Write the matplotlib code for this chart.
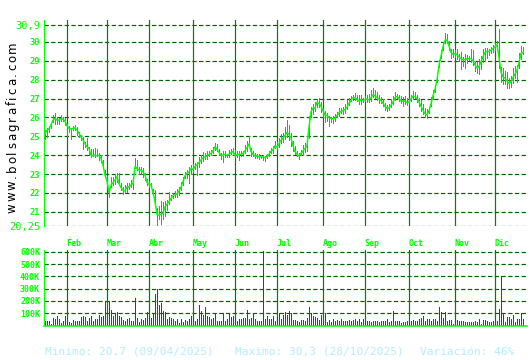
"""
Daily price chart (close + high/low) with volume panel, bolsagrafica style.
Saves out.png (530x360).
"""

import matplotlib
matplotlib.use("Agg")
import matplotlib.pyplot as plt
import matplotlib.transforms as mtransforms
from matplotlib.font_manager import FontProperties
import numpy as np

W, H = 530, 360

MONTHS = ["Feb", "Mar", "Abr", "May", "Jun", "Jul", "Ago", "Sep", "Oct", "Nov", "Dic"]
MONTH_START = [12, 32, 53, 75, 96, 117, 140, 161, 183, 206, 226]  # first session index of each month

# closing prices, one list per month (Jan is partial, Dic is partial)
close_jan = [25.15, 25.33, 25.42, 25.6, 25.86, 25.95, 25.86, 25.86, 25.95, 25.91, 25.8, 25.56]
close_feb = [25.42, 25.38, 25.42, 25.45, 25.33, 25.15, 24.98, 24.8, 24.62, 24.45,
             24.36, 24.0, 23.97, 24.0, 23.97, 24.0, 23.83, 23.48, 22.95, 22.63]
close_mar = [22.03, 22.42, 22.56, 22.68, 22.86, 22.5, 22.28, 22.15, 22.1, 22.33, 22.33,
             22.42, 22.5, 23.39, 23.3, 23.21, 23.21, 23.12, 22.95, 22.56, 22.45]
close_abr = [22.42, 22.03, 21.54, 20.87, 20.83, 20.87, 20.92, 21.27, 21.4, 21.54, 21.71,
             21.86, 21.9, 21.95, 22.1, 22.3, 22.6, 22.9, 23.05, 23.1, 23.3, 23.25]
close_may = [23.4, 23.5, 23.6, 23.75, 23.87, 23.92, 23.96, 24.05, 24.1, 24.23, 24.45,
             24.3, 24.15, 23.98, 24.0, 24.05, 23.98, 24.05, 24.14, 24.2, 23.98]
close_jun = [24.02, 24.05, 24.05, 24.1, 24.23, 24.4, 24.6, 24.2, 24.05, 23.96, 23.96,
             23.92, 23.93, 23.9, 23.87, 23.93, 24.05, 24.2, 24.3, 24.5, 24.41]
close_jul = [24.6, 24.8, 24.9, 25.04, 25.21, 25.1, 24.9, 24.5, 24.2, 24.05, 23.96, 24.1,
             24.23, 24.36, 24.5, 25.5, 26.3, 26.5, 26.5, 26.8, 26.74, 26.6, 26.35]
close_ago = [26.12, 26.1, 26.0, 25.95, 25.92, 25.97, 26.1, 26.25, 26.32, 26.36, 26.43,
             26.55, 26.75, 26.9, 27.05, 27.05, 26.95, 26.88, 26.9, 26.93, 26.95]
close_sep = [26.98, 26.93, 27.05, 27.2, 27.15, 27.05, 26.98, 26.9, 26.75, 26.58, 26.48,
             26.5, 26.65, 26.82, 27.05, 27.12, 27.0, 26.86, 26.86, 26.86, 26.78, 26.82]
close_oct = [27.0, 27.12, 27.12, 27.0, 26.82, 26.6, 26.38, 26.2, 26.14, 26.35, 26.72, 27.15,
             27.5, 28.0, 28.75, 29.25, 29.75, 30.1, 30.1, 29.8, 29.45, 29.35, 29.38]
close_nov = [29.33, 29.2, 29.1, 29.07, 29.07, 29.1, 29.13, 29.12, 29.0, 28.78, 28.62,
             28.7, 28.95, 29.22, 29.45, 29.5, 29.5, 29.57, 29.65, 29.75]
close_dic = [29.85, 29.2, 28.4, 28.15, 28.08, 27.93, 27.8, 27.9, 28.12, 28.3, 28.48,
             28.9, 29.4, 29.45]

# distance from close up to the session high / down to the session low
up_jan = [.18, .1, .15, .12, .25, .3, .15, .1, .18, .12, .15, .12]
up_feb = [.15, .05, .14, .14, .18, .09, .09, .18, .09, .45, .09, .35, .35, .4, .35, .1, .18, .27, .27, .25]
up_mar = [.12, .45, .3, .35, .18, .55, .23, .18, .3, .18, .18, .27, .18, .45, .45, .18, .18, .18, .09, .2, .2]
up_abr = [.12, .2, .6, .35, .5, .7, .6, .3, .25, .5, .2, .15, .2, .25, .2, .3, .25, .2, .15, .25, .2, .3]
up_may = [.2, .15, .3, .25, .3, .2, .25, .15, .2, .2, .2, .3, .2, .15, .2, .2, .1, .25, .2, .2, .3]
up_jun = [.2, .15, .2, .15, .3, .35, .4, .2, .2, .15, .1, .15, .1, .1, .1, .15, .2, .2, .2, .25, .3]
up_jul = [.3, .3, .3, .45, .65, .5, .3, .25, .3, .2, .15, .2, .3, .3, .3, .6, .25, .2, .3, .2, .3, .2, .15]
up_ago = [.2, .15, .1, .1, .15, .2, .2, .25, .2, .2, .3, .35, .3, .25, .15, .25, .25, .3, .3, .1, .2]
up_sep = [.2, .3, .4, .35, .3, .3, .2, .2, .25, .2, .2, .2, .3, .3, .3, .15, .2, .3, .2, .3, .25, .2]
up_oct = [.2, .3, .25, .2, .2, .3, .35, .3, .3, .2, .35, .3, .2, .25, .3, .3, .25, .35, .3, .25, .2, .3, .2]
up_nov = [.3, .15, .35, .15, .3, .2, .15, .5, .6, .2, .3, .4, .3, .4, .25, .2, .15, .15, .2, .2]
up_dic = [.2, 1.5, .3, .45, .4, .5, .3, .3, .5, .45, .3, .5, .4, .3]

dn_jan = [.27, .35, .18, .15, .1, .28, .18, .18, .14, .08, .2, .55]
dn_feb = [.18, .52, .09, .12, .27, .18, .18, .45, .18, .18, .35, .09, .0, .09, .0, .27, .18, .18, .09, .12]
dn_mar = [.23, .1, .14, .18, .27, .0, .12, .18, .07, .3, .1, .1, .27, .09, .09, .18, .18, .27, .27, .14, .12]
dn_abr = [.12, .15, .2, .55, .2, .5, .3, .5, .3, .15, .1, .1, .1, .15, .2, .15, .2, .1, .25, .55, .3, .15]
dn_may = [.15, .55, .2, .15, .2, .1, .15, .1, .1, .1, .15, .1, .15, .2, .35, .15, .1, .15, .1, .1, .1]
dn_jun = [.1, .3, .1, .15, .1, .15, .1, .25, .1, .1, .1, .1, .1, .15, .2, .1, .1, .1, .2, .1, .1]
dn_jul = [.15, .15, .2, .2, .25, .3, .4, .3, .15, .1, .15, .1, .2, .2, .3, .6, .3, .3, .15, .25, .2, .3, .3]
dn_ago = [.35, .3, .45, .2, .2, .15, .1, .15, .1, .2, .2, .1, .1, .05, .1, .15, .1, .15, .2, .1, .1]
dn_sep = [.15, .1, .2, .1, .1, .1, .2, .15, .15, .2, .15, .1, .1, .1, .1, .1, .15, .1, .25, .15, .1, .1]
dn_oct = [.15, .15, .1, .2, .2, .25, .2, .2, .15, .1, .1, .15, .15, .1, .1, .1, .15, .15, .15, .25, .3, .15, .15]
dn_nov = [.25, .2, .55, .35, .45, .2, .1, .2, .2, .3, .25, .4, .4, .3, .4, .35, .2, .15, .2, .15]
dn_dic = [.1, .6, .5, .35, .3, .35, .25, .3, .3, .2, .6, .3, .3, .1]

# volume in thousands
vol_jan = [33, 33, 33, 16, 62, 54, 79, 49, 24, 38, 79, 30]
vol_feb = [30, 24, 46, 33, 33, 38, 71, 76, 71, 38, 65, 79, 38, 57, 57, 87, 71, 79, 201, 40]
vol_mar = [196, 128, 79, 98, 109, 79, 71, 46, 38, 54, 60, 38, 38, 225, 60, 30, 54, 46, 60, 109, 60]
vol_abr = [60, 90, 260, 300, 170, 185, 120, 109, 54, 71, 65, 54, 38, 54, 20, 52, 30, 43, 38, 49, 79, 40]
vol_may = [38, 54, 168, 120, 87, 152, 79, 71, 49, 60, 92, 38, 33, 33, 98, 38, 57, 98, 71, 79, 45]
vol_jun = [38, 54, 49, 60, 60, 128, 49, 60, 106, 49, 38, 38, 40, 609, 54, 79, 49, 49, 76, 38, 71]
vol_jul = [98, 54, 87, 114, 87, 120, 106, 43, 43, 38, 30, 43, 43, 38, 60, 152, 98, 79, 71, 60, 43, 87, 40]
vol_ago = [98, 30, 43, 30, 49, 38, 43, 38, 49, 38, 33, 33, 43, 38, 43, 49, 38, 49, 30, 54, 40]
vol_sep = [33, 33, 27, 38, 33, 38, 30, 33, 33, 33, 49, 27, 38, 120, 38, 33, 33, 22, 27, 27, 33, 35]
vol_oct = [38, 43, 38, 33, 49, 60, 76, 38, 49, 49, 38, 54, 54, 38, 152, 114, 60, 114, 38, 43, 43, 11, 40]
vol_nov = [43, 38, 38, 38, 27, 27, 27, 27, 27, 38, 27, 54, 11, 43, 43, 38, 27, 27, 38, 40]
vol_dic = [33, 136, 405, 103, 27, 71, 71, 54, 87, 27, 49, 49, 98, 54]

PRICE_TICKS = [20.25, 21, 22, 23, 24, 25, 26, 27, 28, 29, 30, 30.9]
PRICE_LABELS = ["20,25", "21", "22", "23", "24", "25", "26", "27", "28", "29", "30", "30,9"]
VOL_TICKS = [100e3, 200e3, 300e3, 400e3, 500e3, 600e3]
VOL_LABELS = ["100K", "200K", "300K", "400K", "500K", "600K"]

WATERMARK = "www.bolsagrafica.com"
FOOTER = ["Minimo: 20,7 (09/04/2025)", "Maximo: 30,3 (28/10/2025)", "Variación: 46%"]

GREEN = "#00ff00"
GRID = "#006400"
MONTH_LINE = "#008000"
TEAL = "#1aa0b4"
RED = "#dd0000"
FOOT = "#b4ecfc"
DASH = (0, (3.6, 2.0))
MONO = "DejaVu Sans Mono"
PX = 0.72  # one pixel in points at dpi 100


def fig_box(x0, y0, x1, y1):
    """pixel box (top-left origin) -> figure rect"""
    return [x0 / W, 1 - y1 / H, (x1 - x0) / W, (y1 - y0) / H]


def style_axes(ax):
    for s in ["top", "right", "bottom"]:
        ax.spines[s].set_visible(False)
    ax.spines["left"].set_color(GREEN)
    ax.spines["left"].set_linewidth(PX)
    ax.set_xticks([])
    ax.tick_params(axis="y", length=0, pad=2.5, colors=GREEN)
    ax.set_facecolor("white")


def month_lines(ax):
    for m in MONTH_START:
        ax.axvline(m - 0.8, color=MONTH_LINE, lw=1.2 * PX, zorder=1)


def draw_watermark(fig, text, x_px, y_start_px, spacing_px, size):
    """vertical, letter-spaced text reading bottom to top"""
    prop = FontProperties(family="DejaVu Sans", size=size)
    renderer = fig.canvas.get_renderer()
    widths = [renderer.get_text_width_height_descent(ch, prop, ismath=False)[0] for ch in text]
    y = y_start_px
    for ch, w in zip(text, widths):
        fig.text(x_px / W, 1 - (y - w / 2) / H, ch, rotation=90, ha="center", va="center",
                 color="black", fontproperties=prop)
        y -= w + spacing_px


def main():
    close = np.array(close_jan + close_feb + close_mar + close_abr + close_may + close_jun
                     + close_jul + close_ago + close_sep + close_oct + close_nov + close_dic)
    up = np.array(up_jan + up_feb + up_mar + up_abr + up_may + up_jun
                  + up_jul + up_ago + up_sep + up_oct + up_nov + up_dic)
    dn = np.array(dn_jan + dn_feb + dn_mar + dn_abr + dn_may + dn_jun
                  + dn_jul + dn_ago + dn_sep + dn_oct + dn_nov + dn_dic)
    vol = np.array(vol_jan + vol_feb + vol_mar + vol_abr + vol_may + vol_jun
                   + vol_jul + vol_ago + vol_sep + vol_oct + vol_nov + vol_dic) * 1000.0
    idx = np.arange(len(close))
    xlim = (-0.75, 241)

    fig = plt.figure(figsize=(W / 100, H / 100), dpi=100)
    fig.patch.set_facecolor("white")

    # --- price panel ---
    ax = fig.add_axes(fig_box(43.5, 20, 527, 226))
    style_axes(ax)
    ax.set_xlim(*xlim)
    ax.set_ylim(20.25, 31.165)
    for t in PRICE_TICKS:
        ax.axhline(t, color=GRID, lw=1.2 * PX, ls=DASH, zorder=1)
    month_lines(ax)
    ax.vlines(idx, close - dn, close + up, color=TEAL, lw=PX, antialiased=False, zorder=2)
    ax.plot(idx, close, color=GREEN, lw=1.5 * PX, zorder=3)
    ax.set_yticks(PRICE_TICKS)
    ax.set_yticklabels(PRICE_LABELS)
    for lab, txt in zip(ax.get_yticklabels(), PRICE_LABELS):
        lab.set_family(MONO)
        if "," in txt:
            lab.set_fontsize(7.5)
        else:
            lab.set_fontsize(6.3)
            lab.set_fontweight("bold")

    # month names between the two panels
    trans = mtransforms.blended_transform_factory(ax.transData, fig.transFigure)
    for name, m in zip(MONTHS, MONTH_START):
        fig.text(m - 1.2, 1 - 244 / H, name, transform=trans, ha="left", va="center",
                 color=GREEN, fontsize=6, fontweight="bold", family=MONO)

    # --- volume panel ---
    av = fig.add_axes(fig_box(43.5, 249.5, 527, 325.5))
    style_axes(av)
    av.spines["bottom"].set_visible(True)
    av.spines["bottom"].set_color(GREEN)
    av.spines["bottom"].set_linewidth(1.5 * PX)
    av.set_xlim(*xlim)
    av.set_ylim(0, 620e3)
    for t in VOL_TICKS:
        av.axhline(t, color=GRID, lw=1.2 * PX, ls=DASH, zorder=1)
    month_lines(av)
    av.vlines(idx, 0, vol, color=RED, lw=PX, antialiased=False, zorder=2)
    av.set_yticks(VOL_TICKS)
    av.set_yticklabels(VOL_LABELS)
    for lab in av.get_yticklabels():
        lab.set_family(MONO)
        lab.set_fontsize(6)
        lab.set_fontweight("bold")

    draw_watermark(fig, WATERMARK, x_px=12.5, y_start_px=213, spacing_px=2.0, size=8.5)

    # footer
    for txt, x in zip(FOOTER, [45, 235, 420]):
        fig.text(x / W, 1 - 352 / H, txt, ha="left", va="center", color=FOOT,
                 fontsize=8, family=MONO)

    plt.savefig("out.png", dpi=100, facecolor="white")
    plt.close()


if __name__ == "__main__":
    main()
